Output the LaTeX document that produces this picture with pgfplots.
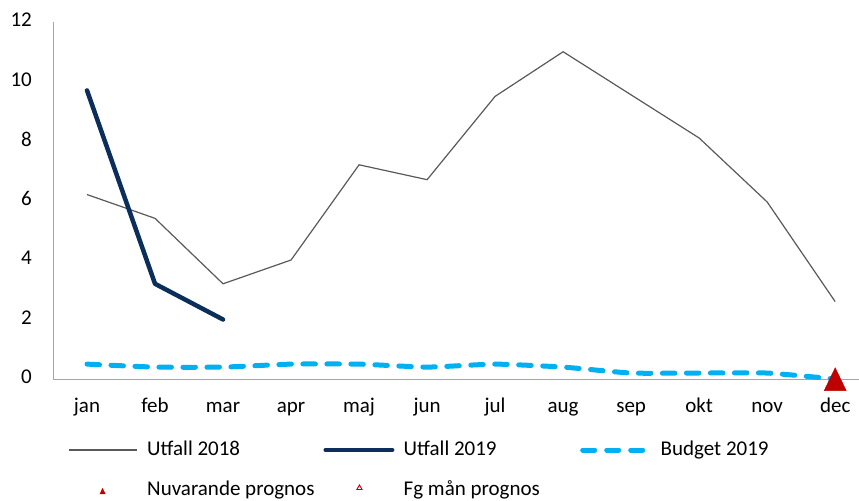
\documentclass[border=0pt]{standalone}
\usepackage{fontspec}
\setmainfont{Carlito}
\usepackage{pgfplots}
\pgfplotsset{compat=1.18}
\definecolor{c18}{HTML}{595959}
\definecolor{c19}{HTML}{0B2E5A}
\definecolor{bud}{HTML}{00B0F0}
\definecolor{prog}{HTML}{C00000}
\definecolor{axgray}{HTML}{A6A6A6}
\begin{document}
\fontsize{21bp}{25bp}\selectfont
\begin{tikzpicture}
\useasboundingbox (-53bp,-122bp) rectangle (806bp,379bp);
\begin{axis}[
  at={(0,0)}, anchor=south west,
  scale only axis, width=806bp, height=357bp,
  xmin=-0.5, xmax=11.35, ymin=0, ymax=12,
  axis lines=left, axis line style={-, draw=axgray, line width=0.9bp},
  xtick={0,...,11},
  xticklabels={jan,feb,mar,apr,maj,jun,jul,aug,sep,okt,nov,dec},
  ytick={0,2,...,12},
  major tick length=0pt,
  tick label style={font=\fontsize{21bp}{25bp}\selectfont},
  xticklabel style={anchor=base, inner sep=0pt, yshift=-33bp},
  yticklabel style={anchor=east, inner sep=0pt, xshift=-21bp, yshift=2bp},
  /pgf/number format/assume math mode=true,
  clip=false,
  legend columns=3,
  legend cell align=left,
  legend style={draw=none, fill=none, at={(axis description cs:0,0)}, anchor=north west,
    inner sep=0pt, outer sep=0pt,
    nodes={inner sep=0pt, text height=15bp, text depth=5bp},
    /tikz/every odd column/.append style={column sep=8bp},
    /tikz/every even column/.append style={column sep=0bp},
    xshift=15bp, yshift=-61bp, row sep=20bp, font=\fontsize{21bp}{25bp}\selectfont},
]
\addplot[c18, line width=1.2bp, legend image code/.code={\draw[c18, line width=1.2bp] (0bp,0bp) -- (68bp,0bp);\path (0bp,0bp) (70bp,0bp);}]
  coordinates {(0,6.2)(1,5.4)(2,3.2)(3,4.0)(4,7.2)(5,6.7)(6,9.5)(7,11.0)(8,9.55)(9,8.1)(10,5.95)(11,2.6)};
\addlegendentry{\makebox[174bp][l]{Utfall 2018}}
\addplot[c19, line width=4.5bp, line join=round, line cap=round, legend image code/.code={\draw[c19, line width=4.5bp, line cap=round] (2.25bp,0bp) -- (68.75bp,0bp);\path (0bp,0bp) (70bp,0bp);}]
  coordinates {(0,9.7)(1,3.2)(2,2.0)};
\addlegendentry{\makebox[174bp][l]{Utfall 2019}}
\addplot[bud, line width=5bp, line cap=round, dash pattern=on 12.5bp off 11.5bp, smooth, tension=0.3,
  legend image code/.code={\draw[bud, line width=5bp, line cap=round, dash pattern=on 12bp off 12bp] (2.5bp,0bp) -- (67.5bp,0bp);\path (0bp,0bp) (70bp,0bp);}]
  coordinates {(0,0.5)(1,0.4)(2,0.4)(3,0.5)(4,0.5)(5,0.4)(6,0.5)(7,0.4)(8,0.2)(9,0.2)(10,0.2)(11,0.0)};
\addlegendentry{\makebox[174bp][l]{Budget 2019}}
\addplot[only marks, mark=triangle*, mark size=12.7bp, color=prog, mark options={fill=prog, yshift=-4bp, yscale=1.2},
  legend image code/.code={\draw[prog, fill=prog] plot[mark=triangle*, mark size=3bp] coordinates {(34bp,2bp)};\path (0bp,0bp) (70bp,0bp);}]
  coordinates {(11,0)};
\addlegendentry{\makebox[174bp][l]{Nuvarande prognos}}
\addlegendimage{legend image code/.code={\draw[prog, line width=0.9bp] plot[mark=triangle, mark size=3bp] coordinates {(36bp,2bp)};\path (0bp,0bp) (70bp,0bp);}}
\addlegendentry{\makebox[174bp][l]{Fg mån prognos}}
\end{axis}
\end{tikzpicture}
\end{document}
